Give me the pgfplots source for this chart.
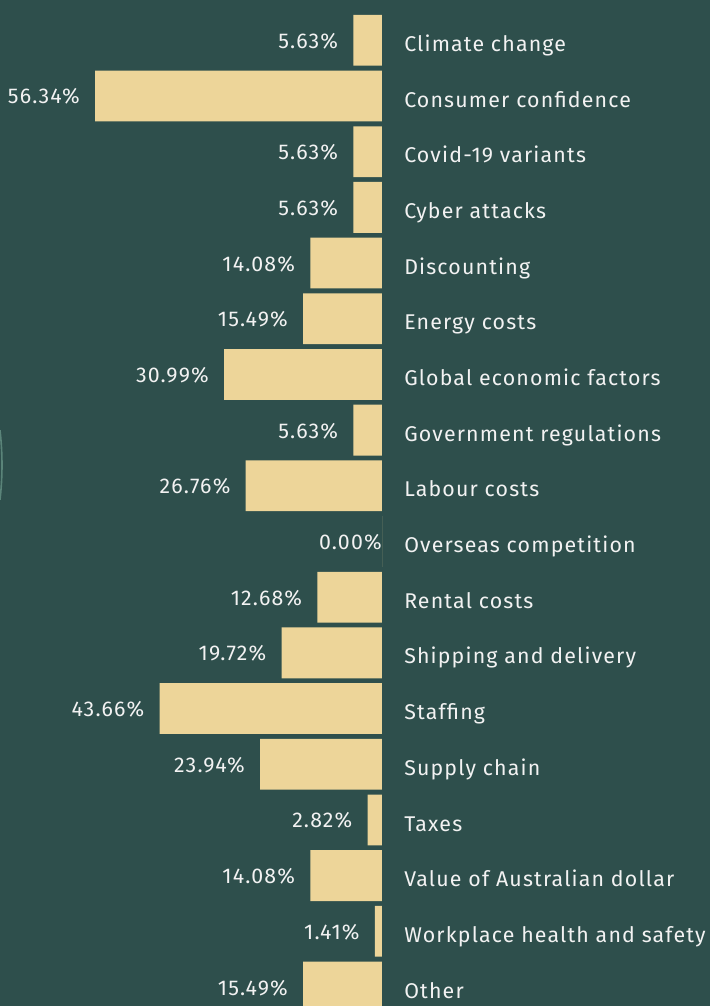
\documentclass[border=0pt]{standalone}
\usepackage{fontspec}
\setmainfont{Fira Sans}[LetterSpace=5.5]
\usepackage{pgfplots}
\pgfplotsset{compat=1.18}
\definecolor{bg}{HTML}{2E4F4C}
\definecolor{barfill}{HTML}{EDD599}
\definecolor{txt}{HTML}{F2F2F2}
\definecolor{glow}{HTML}{5A8479}
\begin{document}
\begin{tikzpicture}[x=1pt,y=1pt]
% page = 710x1006 px at 0.75pt per px
\fill[bg, use as bounding box] (0,0) rectangle (532.5,754.5);
% faint edge of a circle at the left border
\draw[glow, line width=1.2pt] (-228.75,405.75) ++(-6.5:230.25) arc[start angle=-6.5, end angle=6.5, radius=230.25];
\begin{axis}[
    at={(0,0)}, anchor=south west,
    scale only axis, width=286.5pt, height=754.5pt,
    xbar, bar shift=0pt, bar width=38.1pt,
    xmin=0, xmax=75, x dir=reverse,
    ymin=-0.7236, ymax=17.341, y dir=reverse,
    axis line style={draw=none},
    xtick=\empty,
    ytick={0,...,17},
    major tick length=0pt,
    yticklabel pos=right,
    yticklabels={Climate change, Consumer confidence, Covid-19 variants,
        Cyber attacks, Discounting, Energy costs, Global economic factors,
        Government regulations, Labour costs, Overseas competition,
        Rental costs, Shipping and delivery, Staffing, Supply chain, Taxes,
        Value of Australian dollar, Workplace health and safety, Other},
    yticklabel style={anchor=base west, inner sep=0pt, xshift=16.5pt,
        yshift=-8.3pt, font=\fontsize{16}{19}\selectfont, text=txt},
    point meta=x,
    nodes near coords={\pgfmathprintnumber[fixed, fixed zerofill, precision=2, assume math mode=true]{\pgfplotspointmeta}\%},
    every node near coord/.append style={anchor=base east, inner sep=0pt,
        font=\fontsize{16}{19}\selectfont, text=txt},
    clip=false,
]
\addplot[fill=barfill, draw=none,
    every node near coord/.append style={xshift=-11.25pt, yshift=-6pt}]
    coordinates {
    (5.63,0) (56.34,1) (5.63,2) (5.63,3) (14.08,4) (15.49,5) (30.99,6)
    (5.63,7) (26.76,8) (12.68,10) (19.72,11) (43.66,12) (23.94,13)
    (2.82,14) (14.08,15) (1.41,16) (15.49,17)
};
% zero bar: label sits right at the baseline
\addplot[fill=barfill, draw=none,
    every node near coord/.append style={xshift=0pt, yshift=-6pt}]
    coordinates {(0,9)};
\end{axis}
\end{tikzpicture}
\end{document}
